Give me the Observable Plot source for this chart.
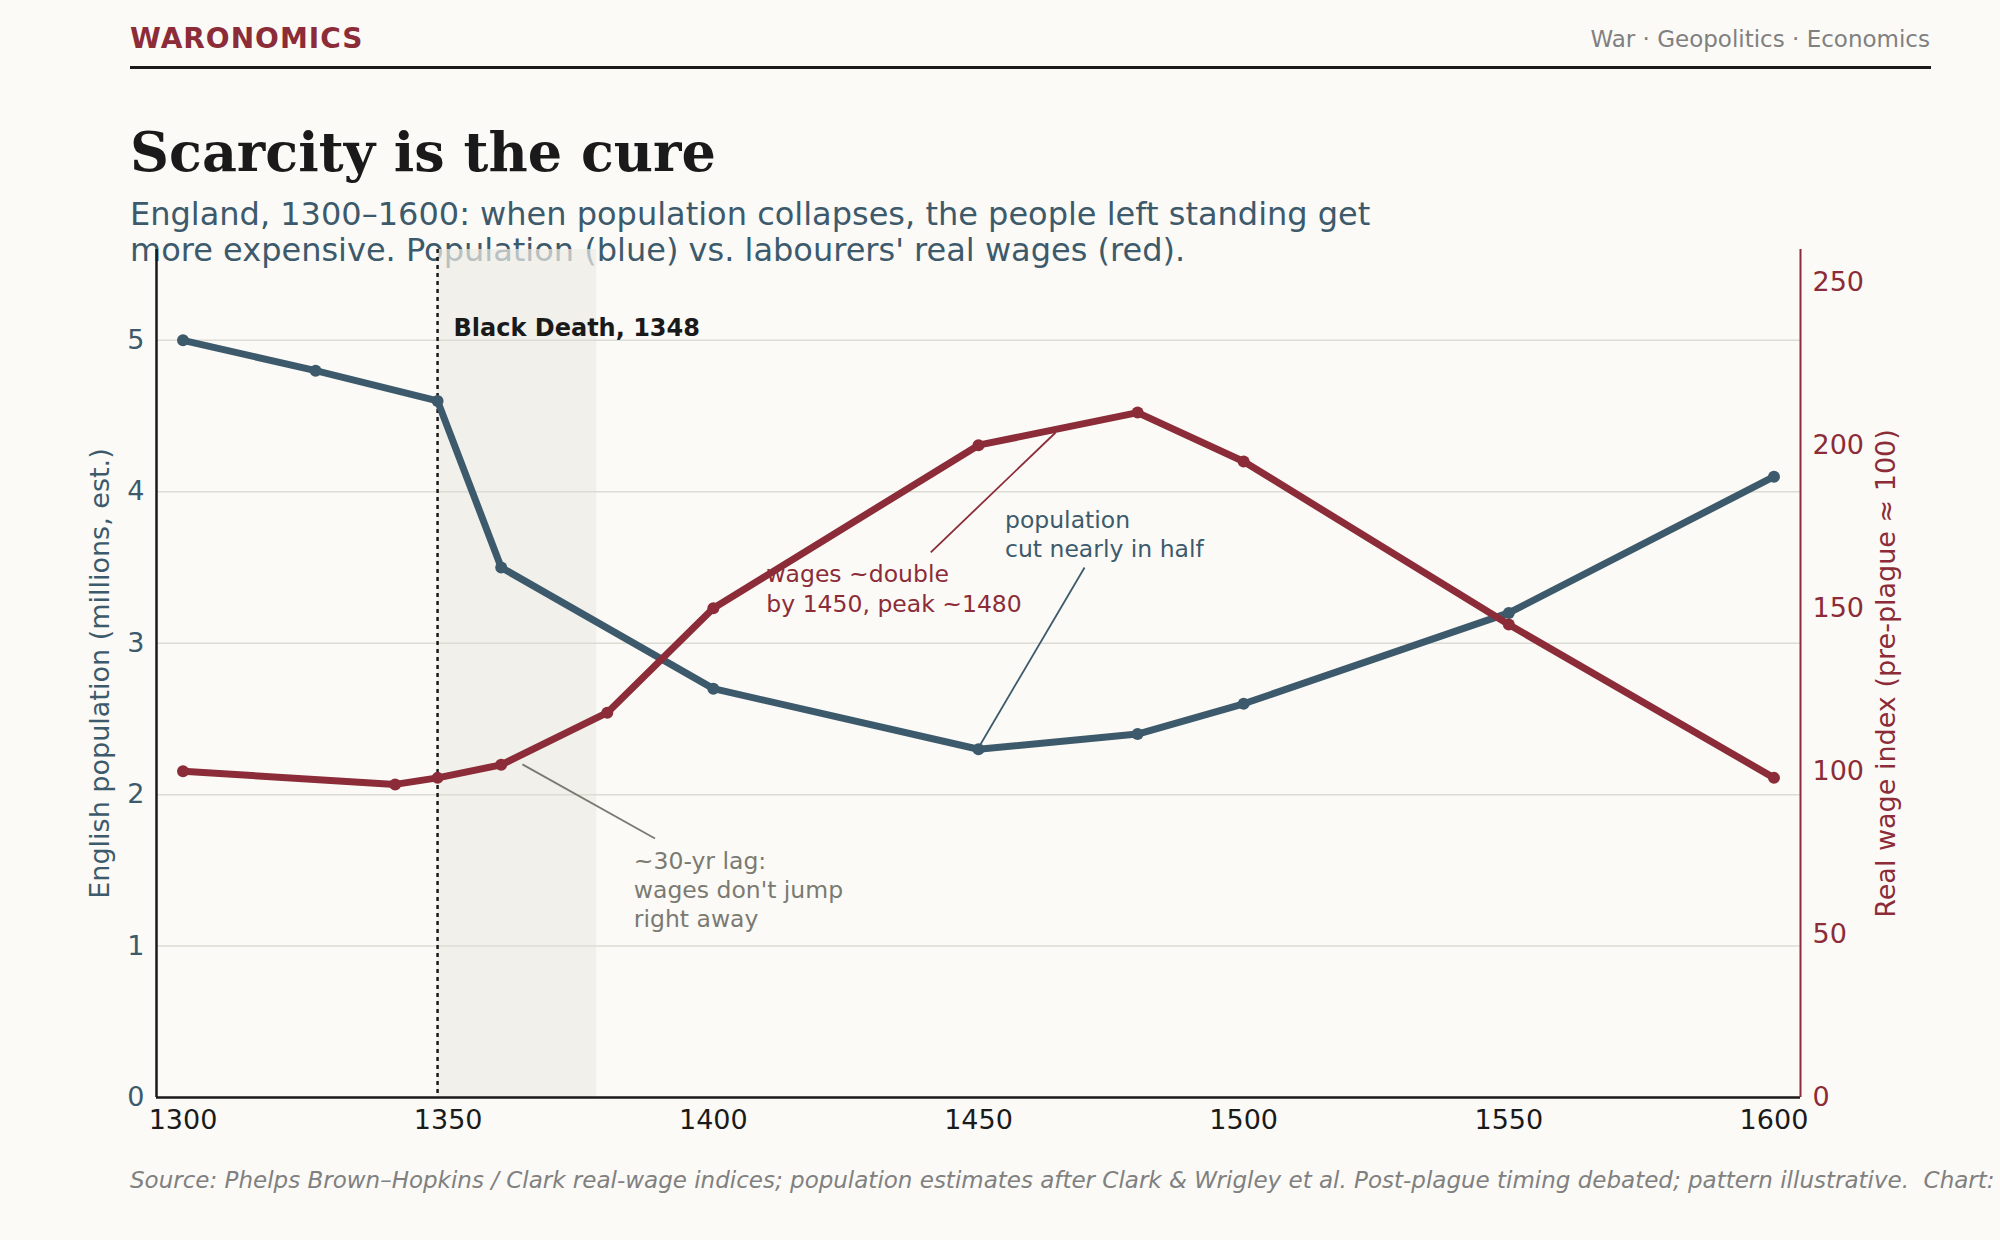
<!DOCTYPE html>
<html><head><meta charset="utf-8">
<script src="https://cdn.jsdelivr.net/npm/d3@7"></script>
<script src="https://cdn.jsdelivr.net/npm/@observablehq/plot@0.6"></script>
<style>
body{margin:0;background:#fbfaf6;width:2000px;height:1240px;position:relative;overflow:hidden;font-family:"DejaVu Sans",sans-serif}
.a{position:absolute}
</style></head><body>
<div class="a" style="left:130px;top:22px;font-size:28px;font-weight:bold;color:#8b2c38;letter-spacing:1px">WARONOMICS</div>
<div class="a" style="right:70px;top:26px;font-size:23px;color:#808080">War · Geopolitics · Economics</div>
<div class="a" style="left:130px;top:66px;width:1801px;height:3px;background:#1a1a1a"></div>
<div class="a" style="left:130px;top:120px;font-family:'DejaVu Serif',serif;font-weight:bold;font-size:54px;color:#1a1a1a">Scarcity is the cure</div>
<div class="a" style="left:130px;top:196px;font-size:32px;line-height:36px;color:#3d5a6c;width:1400px">England, 1300–1600: when population collapses, the people left standing get<br>more expensive. Population (blue) vs. labourers' real wages (red).</div>
<div id="chart" class="a" style="left:0;top:200px"></div>
<div class="a" style="left:130px;top:1167px;font-size:23px;font-style:italic;color:#808080;white-space:nowrap">Source: Phelps Brown–Hopkins / Clark real-wage indices; population estimates after Clark &amp; Wrigley et al. Post-plague timing debated; pattern illustrative.&nbsp; Chart: Waronomics</div>
<script>
const popYears=[1300,1325,1348,1360,1400,1450,1480,1500,1550,1600];
const popValues=[5.0,4.8,4.6,3.5,2.7,2.3,2.4,2.6,3.2,4.1];
const wageYears=[1300,1340,1348,1360,1380,1400,1450,1480,1500,1550,1600];
const wageValues=[100,96,98,102,118,150,200,210,195,145,98];
const wageTicks=[0,50,100,150,200,250];
const popTicks=[0,1,2,3,4,5];
const xTicks=[1300,1350,1400,1450,1500,1550,1600];
const blue="#3d5a6c",red="#8b2c38",grey="#7a7a72";
const k=5.6/260;
const pop=popYears.map((x,i)=>({x,y:popValues[i]}));
const wage=wageYears.map((x,i)=>({x,y:wageValues[i]*k}));
const chart=Plot.plot({
  width:2000,height:960,marginTop:49,marginBottom:63,marginLeft:156,marginRight:200,
  style:{background:"transparent",fontFamily:"DejaVu Sans",fontSize:"27px"},
  x:{domain:[1295,1605]},
  y:{domain:[0,5.6]},
  marks:[
    Plot.rect([{x1:1348,x2:1378}],{x1:"x1",x2:"x2",y1:0,y2:5.6,fill:"#ecebe5",fillOpacity:0.7}),
    Plot.gridY(popTicks.slice(1),{stroke:"#dcdcd4",strokeOpacity:1,strokeWidth:1.5}),
    Plot.ruleX([1348],{stroke:"#1a1a1a",strokeWidth:2.5,strokeDasharray:"4,4"}),
    Plot.axisY(popTicks,{anchor:"left",tickSize:0,tickPadding:12,color:blue,label:null,tickFormat:d=>String(d),fontSize:27}),
    Plot.axisY(wageTicks.map(v=>v*k),{anchor:"right",tickSize:0,tickPadding:12,color:red,label:null,tickFormat:v=>String(Math.round(v/k)),fontSize:27}),
    Plot.axisX(xTicks,{tickSize:0,tickPadding:12,color:"#1a1a1a",label:null,tickFormat:d=>String(d),fontSize:27}),
    Plot.ruleY([0],{stroke:"#1a1a1a",strokeWidth:2.5}),
    Plot.ruleX([1295],{stroke:"#1a1a1a",strokeWidth:2.5}),
    Plot.ruleX([1605],{stroke:red,strokeWidth:2}),
    Plot.text(["English population (millions, est.)"],{x:1295,y:2.8,rotate:-90,textAnchor:"middle",dx:-56,fill:blue,fontSize:27}),
    Plot.text(["Real wage index (pre-plague ≈ 100)"],{x:1605,y:2.8,rotate:-90,textAnchor:"middle",dx:86,fill:red,fontSize:27}),
    Plot.line(pop,{x:"x",y:"y",stroke:blue,strokeWidth:7}),
    Plot.dot(pop,{x:"x",y:"y",fill:blue,r:6}),
    Plot.line(wage,{x:"x",y:"y",stroke:red,strokeWidth:7}),
    Plot.dot(wage,{x:"x",y:"y",fill:red,r:6}),
    Plot.link([{x1:1441,y1:3.60,x2:1464.5,y2:4.39}],{x1:"x1",y1:"y1",x2:"x2",y2:"y2",stroke:red,strokeWidth:1.8}),
    Plot.link([{x1:1470,y1:3.50,x2:1450,y2:2.31}],{x1:"x1",y1:"y1",x2:"x2",y2:"y2",stroke:blue,strokeWidth:1.8}),
    Plot.link([{x1:1389,y1:1.71,x2:1364,y2:2.2}],{x1:"x1",y1:"y1",x2:"x2",y2:"y2",stroke:grey,strokeWidth:1.8}),
    Plot.text(["Black Death, 1348"],{x:1351,y:5.08,textAnchor:"start",fill:"#1a1a1a",fontWeight:"bold",fontSize:24}),
    Plot.text(["wages ~double\nby 1450, peak ~1480"],{x:1410,y:3.54,textAnchor:"start",lineAnchor:"top",lineHeight:1.25,fill:red,fontSize:23.5}),
    Plot.text(["population\ncut nearly in half"],{x:1455,y:3.90,textAnchor:"start",lineAnchor:"top",lineHeight:1.25,fill:blue,fontSize:23.5}),
    Plot.text(["~30-yr lag:\nwages don't jump\nright away"],{x:1385,y:1.65,textAnchor:"start",lineAnchor:"top",lineHeight:1.25,fill:grey,fontSize:23.5})
  ]
});
document.getElementById("chart").appendChild(chart);
</script>
</body></html>
